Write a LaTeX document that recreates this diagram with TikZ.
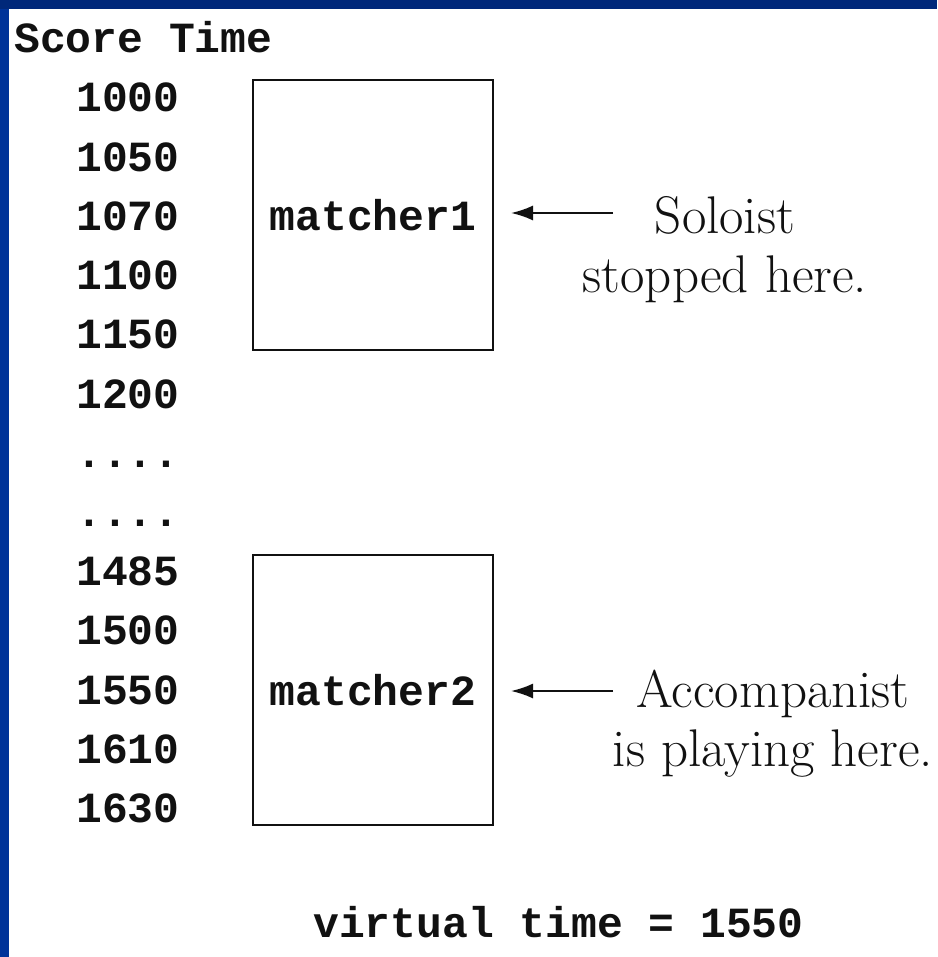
\documentclass[tikz,border=0pt]{standalone}
\usepackage{fontspec}
\usepackage{xcolor}
\usepackage{tikz}
\usetikzlibrary{positioning,arrows.meta}
\newfontfamily\scorefont{Liberation Mono}
\definecolor{SlideBlueTop}{HTML}{00287A}
\definecolor{SlideBlueLeft}{HTML}{003399}
\definecolor{InkDark}{HTML}{111111}
\tikzset{
  tt/.style={font=\scorefont\bfseries\fontsize{43}{50}\selectfont, text=InkDark, inner sep=0pt},
  timelabel/.style={tt, anchor=base west},
  matcherbox/.style={draw=InkDark, line width=2pt, minimum width=240pt, minimum height=270pt, inner sep=0pt, tt},
  note/.style={font=\fontsize{53}{59}\selectfont, text=InkDark, align=center, inner sep=0pt},
  pointer/.style={-{Latex[length=22pt,width=15pt]}, line width=2pt, draw=InkDark}
}

\begin{document}
\begin{tikzpicture}[x=1pt, y=-1pt]
      \useasboundingbox (0,0) rectangle (937,957);
      \fill[white] (0,0) rectangle (937,957);
      \fill[SlideBlueTop]  (0,0) rectangle (937,9);
      \fill[SlideBlueLeft] (0,9) rectangle (9,957);
      \node[timelabel] (head) at (14,53) {Score Time};
      \node[timelabel] (t1000) at (76,112.0) {1000};
      \node[timelabel] (t1050) at (76,171.2) {1050};
      \node[timelabel] (t1070) at (76,230.4) {1070};
      \node[timelabel] (t1100) at (76,289.6) {1100};
      \node[timelabel] (t1150) at (76,348.8) {1150};
      \node[timelabel] (t1200) at (76,408.0) {1200};
      \node[timelabel] (gapa)  at (76,467.2) {....};
      \node[timelabel] (gapb)  at (76,526.4) {....};
      \node[timelabel] (t1485) at (76,585.6) {1485};
      \node[timelabel] (t1500) at (76,644.8) {1500};
      \node[timelabel] (t1550) at (76,704.0) {1550};
      \node[timelabel] (t1610) at (76,763.2) {1610};
      \node[timelabel] (t1630) at (76,822.4) {1630};
      \node[matcherbox] (m1) at (373,215) {matcher1};
      \node[matcherbox] (m2) at (373,690) {matcher2};
      \node[note] (solo) at (725,250) {Soloist\\stopped here.};
      \node[note] (acc)  at (773,724) {Accompanist\\is playing here.};
      \coordinate (soloarr) at (613,213);
      \coordinate (accarr)  at (613,691);
      \draw[pointer, shorten >=17pt] (soloarr) -- (soloarr -| m1.east);
      \draw[pointer, shorten >=17pt] (accarr) -- (accarr -| m2.east);
      \node[timelabel] (vtime) at (313,937) {virtual time = 1550};
    \end{tikzpicture}
\end{document}
